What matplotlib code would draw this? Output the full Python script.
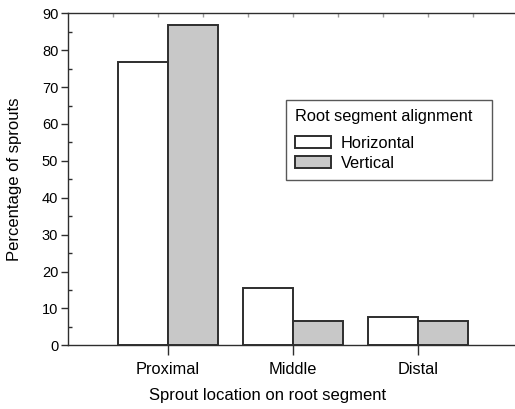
import numpy as np
import matplotlib.pyplot as plt
from matplotlib.ticker import MultipleLocator

plt.rcParams['font.family'] = ['Liberation Sans', 'DejaVu Sans']

locations = ['Proximal', 'Middle', 'Distal']
horizontal = [76.9, 15.4, 7.7]
vertical = [86.7, 6.7, 6.7]

x = np.arange(1, len(locations) + 1)
w = 0.4

fig = plt.figure(figsize=(5.15, 4.09), dpi=100)
ax = fig.add_axes([68/515, 1 - 345.3/409, 450/515, 332/409])

edge = '#2e2e2e'
ax.bar(x - w/2, horizontal, w, color='white', edgecolor=edge, linewidth=1.4, label='Horizontal')
ax.bar(x + w/2, vertical, w, color='#c8c8c8', edgecolor=edge, linewidth=1.4, label='Vertical')

ax.set_xlim(0.2, 3.8)
ax.set_ylim(0, 90)
ax.set_xticks(x)
ax.set_xticklabels(locations)
ax.yaxis.set_major_locator(MultipleLocator(10))
ax.yaxis.set_minor_locator(MultipleLocator(5))

for s in ['left', 'bottom', 'top']:
    ax.spines[s].set_color(edge)
    ax.spines[s].set_linewidth(1.0)
ax.spines['right'].set_visible(False)

ax.tick_params(axis='y', which='major', direction='out', length=5, width=1, color=edge, labelsize=10.5, pad=2)
ax.tick_params(axis='y', which='minor', direction='in', length=3, width=1, color=edge)
ax.tick_params(axis='x', which='major', direction='out', length=7, width=1, color=edge, labelsize=11.8, pad=5)

# top axis minor ticks
top = ax.secondary_xaxis('top')
top.set_xticks(np.linspace(0.2, 3.8, 11)[1:-1])
top.tick_params(direction='in', length=3, width=1, color='#999999', labeltop=False)
top.spines['top'].set_visible(False)

ax.set_ylabel('Percentage of sprouts', fontsize=12)
ax.yaxis.set_label_coords(-46/450, 0.5)
ax.set_xlabel('Sprout location on root segment', fontsize=12)
ax.xaxis.set_label_coords((268 - 68)/450, -43/332)

leg = ax.legend(title='Root segment alignment', loc='upper left',
                bbox_to_anchor=(285.7/515, 1 - 100/409, 206/515, 0.001), mode='expand',
                bbox_transform=fig.transFigure,
                fontsize=11.8, title_fontsize=11.8, frameon=True, fancybox=False,
                edgecolor=edge, handlelength=2.2, handleheight=0.75,
                labelspacing=0.3, handletextpad=0.6, borderpad=0.55, borderaxespad=0)
leg._legend_box.align = 'left'
leg._legend_box.sep = 9
leg.get_frame().set_linewidth(1.0)

fig.savefig('out.png', dpi=100)
